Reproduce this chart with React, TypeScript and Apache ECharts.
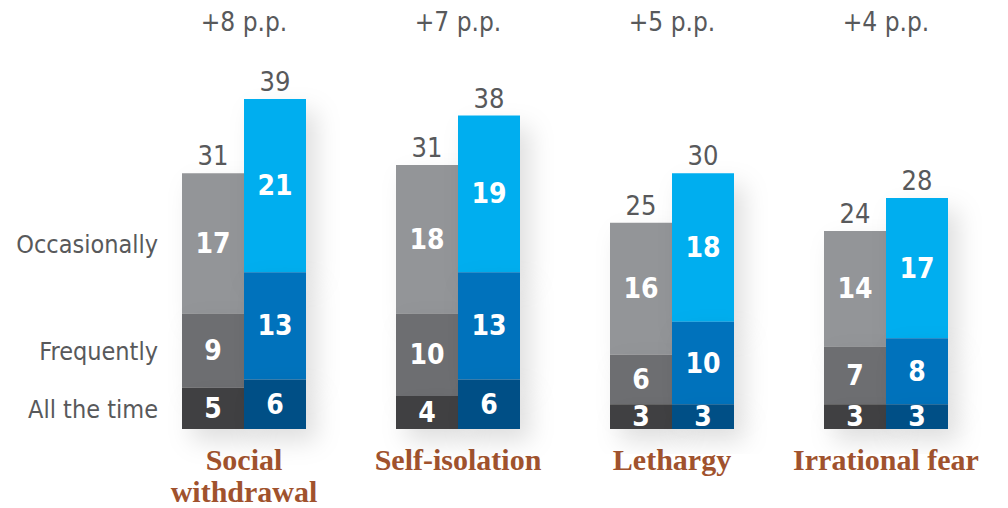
import React, { useEffect, useRef } from "react";
import * as echarts from "echarts";

const categories = ["Social\nwithdrawal", "Self-isolation", "Lethargy", "Irrational fear"];
const changeLabels = ["+8 p.p.", "+7 p.p.", "+5 p.p.", "+4 p.p."];
const segmentNames = ["All the time", "Frequently", "Occasionally"];

const beforeAll = [5, 4, 3, 3];
const beforeFreq = [9, 10, 6, 7];
const beforeOcc = [17, 18, 16, 14];
const beforeTotal = [31, 31, 25, 24];

const afterAll = [6, 6, 3, 3];
const afterFreq = [13, 13, 10, 8];
const afterOcc = [21, 19, 18, 17];
const afterTotal = [39, 38, 30, 28];

const NARROW = '"Liberation Sans Narrow", "DejaVu Sans Condensed", "Roboto", sans-serif';
const GREY_TEXT = "#58595b";
const BAR_W = 62;

export default function App() {
  const ref = useRef<HTMLDivElement>(null);

  useEffect(() => {
    if (!ref.current) return;
    const chart = echarts.init(ref.current, undefined, { renderer: "svg" });

    const shadow = {
      shadowBlur: 24,
      shadowColor: "rgba(0,0,0,0.13)",
      shadowOffsetX: 10,
      shadowOffsetY: 12,
    };
    const inner = {
      show: true,
      position: "inside",
      color: "#ffffff",
      fontFamily: NARROW,
      fontWeight: "bold",
      fontSize: 28,
      formatter: (p: any) => String(p.value),
    };
    const mk = (name: string, stack: string, data: number[], color: string, z: number) => ({
      name,
      type: "bar",
      stack,
      data,
      z,
      barWidth: BAR_W,
      barGap: "0%",
      itemStyle: { color, ...shadow },
      label: inner,
      emphasis: { disabled: true },
    });

    const totalLabelSeries = (stack: string, totals: number[]) => ({
      name: stack + " total",
      type: "bar",
      stack,
      data: totals.map(() => 0),
      barWidth: BAR_W,
      barGap: "0%",
      silent: true,
      itemStyle: { color: "transparent" },
      label: {
        show: true,
        position: "top",
        distance: 4,
        color: GREY_TEXT,
        fontFamily: NARROW,
        fontSize: 27,
        formatter: (p: any) => String(totals[p.dataIndex]),
      },
    });

    const option: any = {
      animation: false,
      grid: { left: 137, right: 15, top: 33, bottom: 79 },
      xAxis: [
        {
          type: "category",
          data: categories,
          axisLine: { show: false },
          axisTick: { show: false },
          axisLabel: {
            margin: 14,
            color: "#a0522d",
            fontFamily: '"Liberation Serif", "DejaVu Serif", serif',
            fontWeight: "bold",
            fontSize: 30,
            lineHeight: 32,
            interval: 0,
          },
        },
        {
          type: "category",
          position: "top",
          data: changeLabels,
          axisLine: { show: false },
          axisTick: { show: false },
          axisLabel: {
            margin: -2,
            color: GREY_TEXT,
            fontFamily: NARROW,
            fontSize: 26,
            interval: 0,
          },
        },
      ],
      yAxis: {
        type: "value",
        min: 0,
        max: 48,
        show: false,
        splitLine: { show: false },
      },
      series: [
        mk("Before all the time", "before", beforeAll, "#414042", 3),
        mk("Before frequently", "before", beforeFreq, "#6d6e71", 2),
        mk("Before occasionally", "before", beforeOcc, "#939598", 1),
        totalLabelSeries("before", beforeTotal),
        mk("After all the time", "after", afterAll, "#004f86", 6),
        mk("After frequently", "after", afterFreq, "#0072bc", 5),
        mk("After occasionally", "after", afterOcc, "#00aeef", 4),
        totalLabelSeries("after", afterTotal),
      ],
    };

    chart.setOption(option);

    const firstSegs = [beforeAll[0], beforeFreq[0], beforeOcc[0]];
    let base = 0;
    const texts: any[] = [];
    firstSegs.forEach((v, i) => {
      const mid = base + v / 2;
      base += v;
      const pt = chart.convertToPixel({ xAxisIndex: 0, yAxisIndex: 0 }, [0, mid]) as number[];
      texts.push({
        type: "text",
        x: pt[0] - BAR_W - 24,
        y: pt[1] + 1,
        style: {
          text: segmentNames[i],
          align: "right",
          verticalAlign: "middle",
          fill: GREY_TEXT,
          font: `25px ${NARROW}`,
        },
      });
    });
    chart.setOption({ graphic: texts });

    return () => chart.dispose();
  }, []);

  return (
    <div
      ref={ref}
      style={{ position: "absolute", left: 0, top: 0, width: 1008, height: 508, background: "#fff" }}
    />
  );
}
